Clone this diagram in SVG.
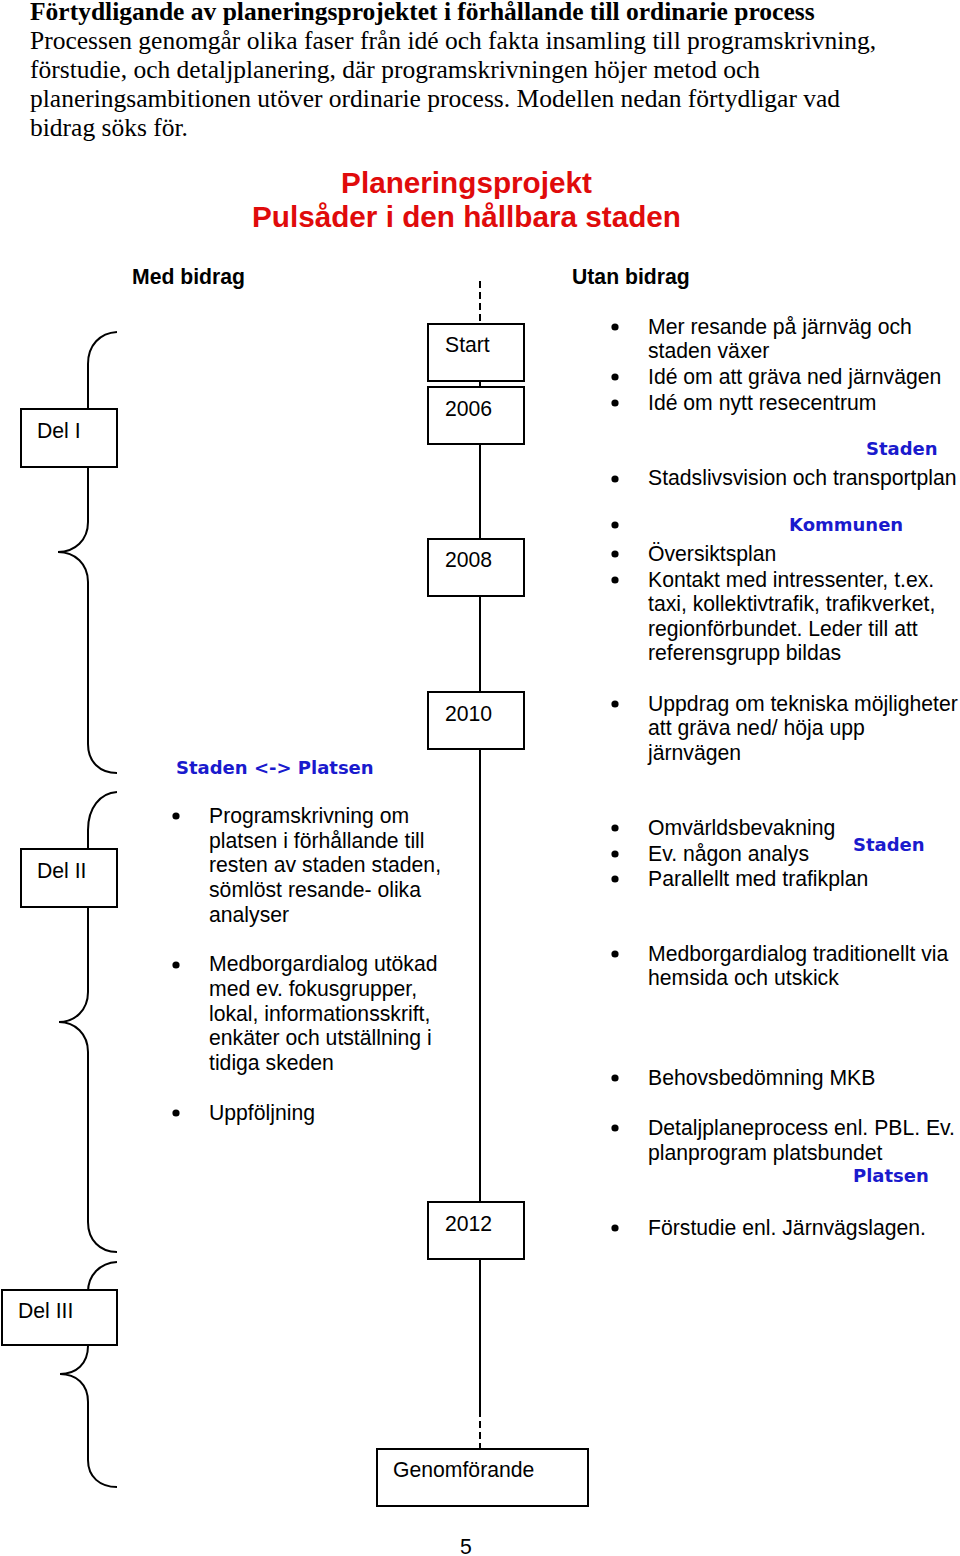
<svg xmlns="http://www.w3.org/2000/svg" width="960" height="1556" viewBox="0 0 960 1556">
<style>
.serif{font-family:"Liberation Serif","Times New Roman",serif;font-size:25.5px;fill:#000}
.sans{font-family:"Liberation Sans",Arial,sans-serif;font-size:21.2px;fill:#000}
.sb{font-family:"Liberation Sans",Arial,sans-serif;font-size:21.2px;font-weight:bold;fill:#000}
.title{font-family:"Liberation Sans",Arial,sans-serif;font-size:29.7px;font-weight:bold;fill:#e00b0b}
.blue{font-family:"Comic Sans MS","DejaVu Sans",sans-serif;font-size:18px;font-weight:bold;fill:#1a1acd}
.box{fill:#fff;stroke:#000;stroke-width:2}
.ln{fill:none;stroke:#000;stroke-width:2}
.dash{fill:none;stroke:#000;stroke-width:2;stroke-dasharray:7,4}
</style>
<rect width="960" height="1556" fill="#fff"/>

<g id="intro">
<text class="serif" x="30" y="20" font-weight="bold">Förtydligande av planeringsprojektet i förhållande till ordinarie process</text>
<text class="serif" x="30" y="49">Processen genomgår olika faser från idé och fakta insamling till programskrivning,</text>
<text class="serif" x="30" y="78">förstudie, och detaljplanering, där programskrivningen höjer metod och</text>
<text class="serif" x="30" y="107">planeringsambitionen utöver ordinarie process. Modellen nedan förtydligar vad</text>
<text class="serif" x="30" y="136">bidrag söks för.</text>
</g>

<g id="title">
<text class="title" x="466.5" y="193" text-anchor="middle">Planeringsprojekt</text>
<text class="title" x="466.5" y="227" text-anchor="middle">Pulsåder i den hållbara staden</text>
</g>

<g id="headers">
<text class="sb" x="132" y="284">Med bidrag</text>
<text class="sb" x="572" y="284">Utan bidrag</text>
</g>

<g id="connectors">
<line class="dash" x1="480" y1="281" x2="480" y2="323"/>
<line class="ln" x1="480" y1="323" x2="480" y2="1410"/>
<line class="dash" x1="480" y1="1410" x2="480" y2="1449"/>
<path class="ln" d="M117,332 C100,333 88,345 88,364 L88,522 C88,540 75,552 58,552 C75,552 88,564 88,582 L88,744 C88,762 100,773 117,773"/>
<path class="ln" d="M117,792 C100,793 88,808 88,830 L88,992 C88,1010 75,1022 59,1022 C75,1022 88,1034 88,1052 L88,1222 C88,1240 100,1252 117,1252"/>
<path class="ln" d="M117,1262 C100,1263 88,1275 88,1292 L88,1346 C88,1364 76,1374 60,1374 C76,1374 88,1384 88,1402 L88,1460 C88,1477 100,1487 117,1487"/>
</g>

<g id="del1"><rect class="box" x="21" y="409" width="96" height="58"/><text class="sans" x="37" y="438">Del I</text></g>
<g id="del2"><rect class="box" x="21" y="849" width="96" height="58"/><text class="sans" x="37" y="878">Del II</text></g>
<g id="del3"><rect class="box" x="2" y="1290" width="115" height="55"/><text class="sans" x="18" y="1318">Del III</text></g>

<g id="start"><rect class="box" x="428" y="324" width="96" height="57"/><text class="sans" x="445" y="352">Start</text></g>
<g id="y2006"><rect class="box" x="428" y="387" width="96" height="57"/><text class="sans" x="445" y="416">2006</text></g>
<g id="y2008"><rect class="box" x="428" y="539" width="96" height="57"/><text class="sans" x="445" y="567">2008</text></g>
<g id="y2010"><rect class="box" x="428" y="692" width="96" height="57"/><text class="sans" x="445" y="721">2010</text></g>
<g id="y2012"><rect class="box" x="428" y="1202" width="96" height="57"/><text class="sans" x="445" y="1231">2012</text></g>
<g id="genomforande"><rect class="box" x="377" y="1449" width="211" height="57"/><text class="sans" x="393" y="1477">Genomförande</text></g>

<g id="left-list">
<text class="blue" x="176" y="774">Staden &lt;-&gt; Platsen</text>
<circle cx="176" cy="816" r="3.6"/>
<circle cx="176" cy="965" r="3.6"/>
<circle cx="176" cy="1113" r="3.6"/>
<text class="sans" x="209" y="823">Programskrivning om</text>
<text class="sans" x="209" y="848">platsen i förhållande till</text>
<text class="sans" x="209" y="872">resten av staden staden,</text>
<text class="sans" x="209" y="897">sömlöst resande- olika</text>
<text class="sans" x="209" y="922">analyser</text>
<text class="sans" x="209" y="971">Medborgardialog utökad</text>
<text class="sans" x="209" y="996">med ev. fokusgrupper,</text>
<text class="sans" x="209" y="1021">lokal, informationsskrift,</text>
<text class="sans" x="209" y="1045">enkäter och utställning i</text>
<text class="sans" x="209" y="1070">tidiga skeden</text>
<text class="sans" x="209" y="1120">Uppföljning</text>
</g>

<g id="right-list">
<circle cx="615" cy="327" r="3.6"/>
<circle cx="615" cy="377" r="3.6"/>
<circle cx="615" cy="403" r="3.6"/>
<circle cx="615" cy="479" r="3.6"/>
<circle cx="615" cy="525" r="3.6"/>
<circle cx="615" cy="554" r="3.6"/>
<circle cx="615" cy="580" r="3.6"/>
<circle cx="615" cy="704" r="3.6"/>
<circle cx="615" cy="828" r="3.6"/>
<circle cx="615" cy="854" r="3.6"/>
<circle cx="615" cy="879" r="3.6"/>
<circle cx="615" cy="954" r="3.6"/>
<circle cx="615" cy="1078" r="3.6"/>
<circle cx="615" cy="1128" r="3.6"/>
<circle cx="615" cy="1228" r="3.6"/>
<text class="sans" x="648" y="334">Mer resande på järnväg och</text>
<text class="sans" x="648" y="358">staden växer</text>
<text class="sans" x="648" y="384">Idé om att gräva ned järnvägen</text>
<text class="sans" x="648" y="410">Idé om nytt resecentrum</text>
<text class="blue" x="866" y="455">Staden</text>
<text class="sans" x="648" y="485">Stadslivsvision och transportplan</text>
<text class="blue" x="789" y="531">Kommunen</text>
<text class="sans" x="648" y="561">Översiktsplan</text>
<text class="sans" x="648" y="587">Kontakt med intressenter, t.ex.</text>
<text class="sans" x="648" y="611">taxi, kollektivtrafik, trafikverket,</text>
<text class="sans" x="648" y="636">regionförbundet. Leder till att</text>
<text class="sans" x="648" y="660">referensgrupp bildas</text>
<text class="sans" x="648" y="711">Uppdrag om tekniska möjligheter</text>
<text class="sans" x="648" y="735">att gräva ned/ höja upp</text>
<text class="sans" x="648" y="760">järnvägen</text>
<text class="sans" x="648" y="835">Omvärldsbevakning</text>
<text class="sans" x="648" y="861">Ev. någon analys</text>
<text class="blue" x="853" y="851">Staden</text>
<text class="sans" x="648" y="886">Parallellt med trafikplan</text>
<text class="sans" x="648" y="961">Medborgardialog traditionellt via</text>
<text class="sans" x="648" y="985">hemsida och utskick</text>
<text class="sans" x="648" y="1085">Behovsbedömning MKB</text>
<text class="sans" x="648" y="1135">Detaljplaneprocess enl. PBL. Ev.</text>
<text class="sans" x="648" y="1160">planprogram platsbundet</text>
<text class="blue" x="853" y="1182">Platsen</text>
<text class="sans" x="648" y="1235">Förstudie enl. Järnvägslagen.</text>
</g>

<g id="page-number"><text class="sans" x="466" y="1554" text-anchor="middle">5</text></g>
</svg>
